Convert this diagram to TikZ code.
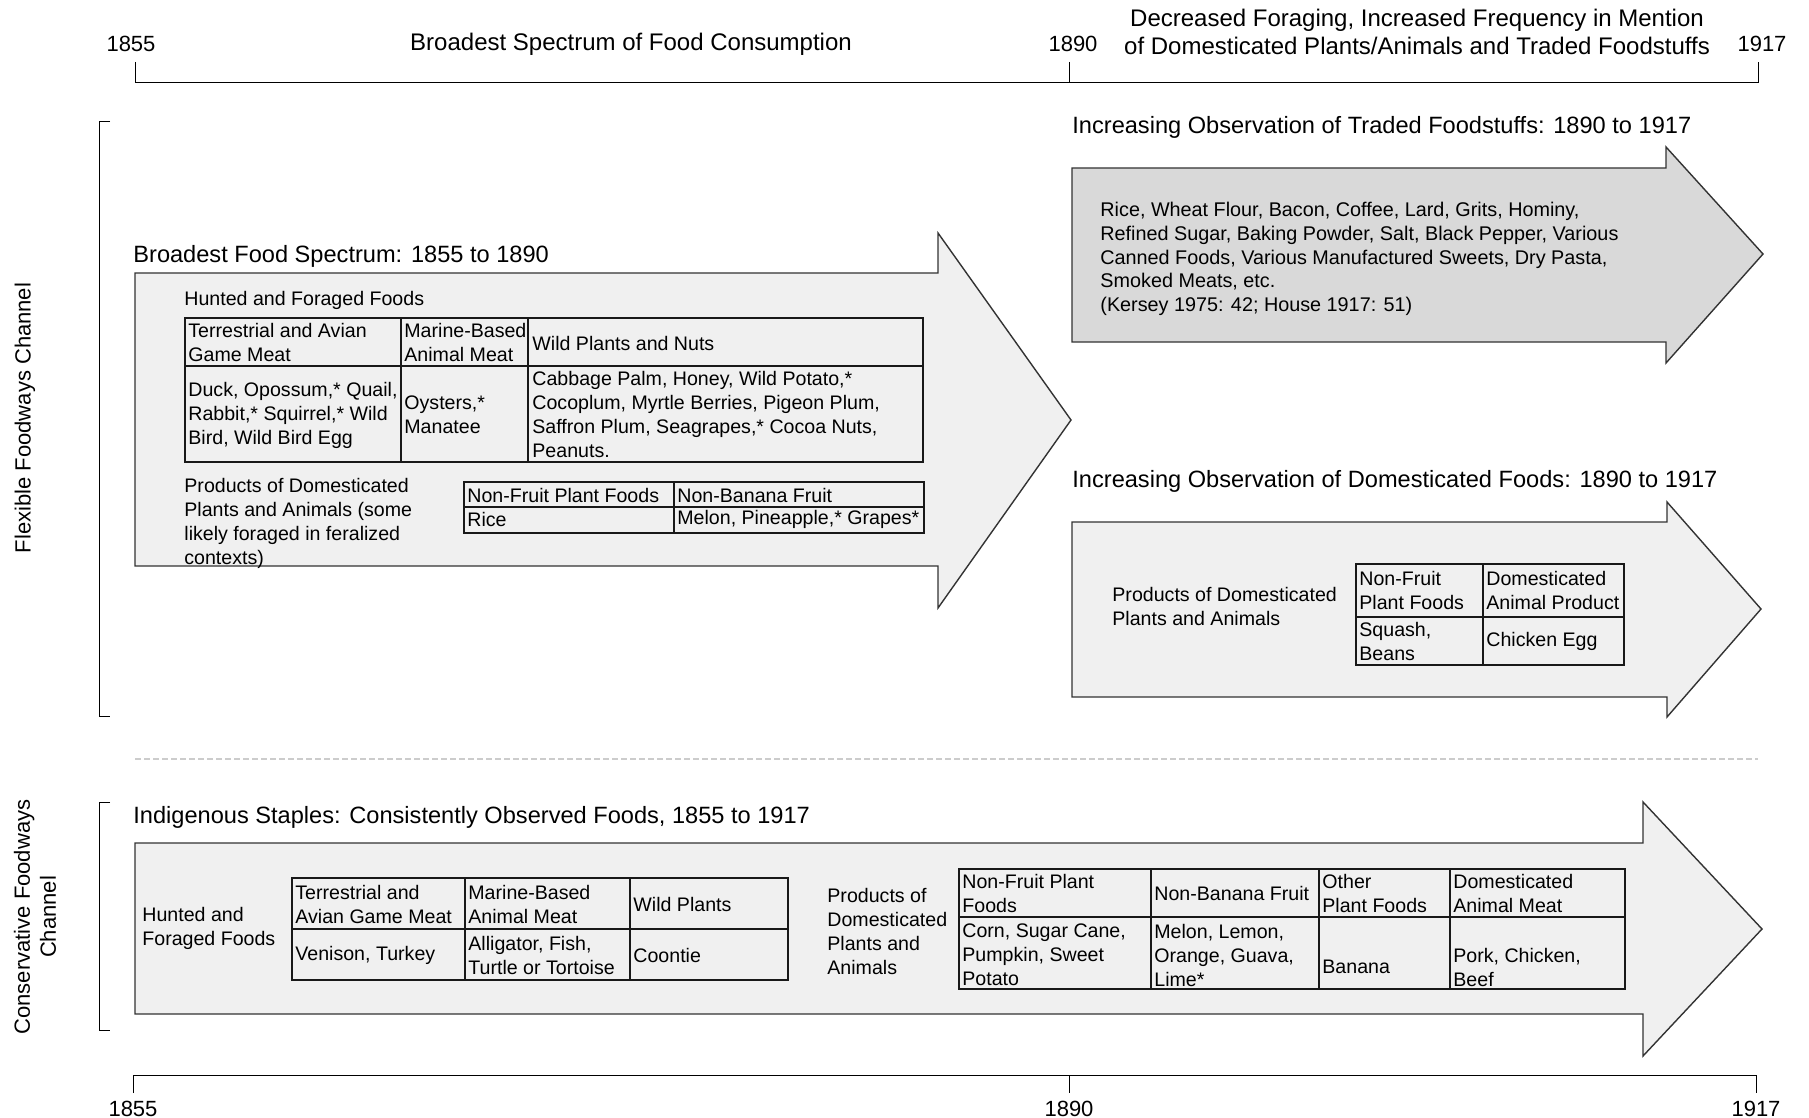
\documentclass[tikz,border=0pt]{standalone}
\usepackage{fontspec}
\setmainfont{Liberation Sans}
\begin{document}
\begin{tikzpicture}[x=0.5pt,y=-0.5pt,
  yearlbl/.style={font=\fontsize{11}{13}\selectfont, inner sep=0pt},
  headlbl/.style={font=\fontsize{12}{14}\selectfont, inner sep=0pt, align=center},
  chanlbl/.style={font=\fontsize{11}{13}\selectfont, inner sep=0pt, align=center, rotate=90},
  arrowtitle/.style={font=\fontsize{11.8}{14}\selectfont, inner sep=0pt, anchor=west},
  celltxt/.style={font=\fontsize{9.8}{12}\selectfont, inner sep=0pt, anchor=west, align=left},
  bigarrow/.style={draw=black!80, fill=black!6, line width=0.7pt, line join=miter},
  tradearrow/.style={bigarrow, fill=black!15},
  grid/.style={draw=black!90, line width=0.9pt}]

\useasboundingbox (0,0) rectangle (1809,1118);

% time axes
\draw (135,62) -- (135,82) -- (1758,82) -- (1758,62);
\draw (1069,62) -- (1069,82);
\foreach \x/\yr in {131/1855, 1073/1890, 1762/1917}
    \node[yearlbl] (top\yr) at (\x,44) {\yr};
\node[headlbl] (spectrum) at (631,44) {Broadest Spectrum of Food Consumption};
\node[headlbl] (decrease) at (1417,32)
  {Decreased Foraging, Increased Frequency in Mention\\of Domesticated Plants/Animals and Traded Foodstuffs};

\draw (133,1093) -- (133,1075) -- (1756,1075) -- (1756,1093);
\draw (1069,1075) -- (1069,1093);
\foreach \x/\yr in {133/1855, 1069/1890, 1756/1917}
    \node[yearlbl] (bot\yr) at (\x,1109) {\yr};

% channels
\draw (110,121) -- (99,121) -- (99,716) -- (110,716);
\draw (110,802) -- (99,802) -- (99,1030) -- (110,1030);
\node[chanlbl] (flexible) at (25,418) {Flexible Foodways Channel};
\node[chanlbl] (conservative) at (35,917) {Conservative Foodways\\Channel};
\draw[black!20, line width=1.3pt, dash pattern=on 3pt off 1.5pt] (135,759) -- (1758,759);

% arrows
\draw[bigarrow] (135,273) -- (938,273) -- (938,233) -- (1071,420) -- (938,608) -- (938,566) -- (135,566) -- cycle;
\draw[tradearrow] (1072,168) -- (1666,168) -- (1666,147) -- (1763,254) -- (1666,363) -- (1666,342) -- (1072,342) -- cycle;
\draw[bigarrow] (1072,522) -- (1667,522) -- (1667,502) -- (1761,609) -- (1667,717) -- (1667,697) -- (1072,697) -- cycle;
\draw[bigarrow] (135,843) -- (1643,843) -- (1643,802) -- (1762,929) -- (1643,1056) -- (1643,1014) -- (135,1014) -- cycle;

\node[arrowtitle] (broadtitle) at (133,256) {Broadest Food Spectrum: 1855 to 1890};
\node[arrowtitle] (tradetitle) at (1072,127) {Increasing Observation of Traded Foodstuffs: 1890 to 1917};
\node[arrowtitle] (domtitle) at (1072,481) {Increasing Observation of Domesticated Foods: 1890 to 1917};
\node[arrowtitle] (indtitle) at (133,817) {Indigenous Staples: Consistently Observed Foods, 1855 to 1917};

% broadest spectrum
\node[celltxt] (hunted) at (184,300) {Hunted and Foraged Foods};
\draw[grid] (185,318) rectangle (923,462);
\draw[grid] (185,366) -- (923,366);
\foreach \x in {401,528}
    \draw[grid] (\x,318) -- (\x,462);
\foreach \x/\y/\t [count=\i] in {
  188/342/{Terrestrial and Avian\\Game Meat},
  404/342/{Marine-Based\\Animal Meat},
  532/343/{Wild Plants and Nuts},
  188/415/{Duck, Opossum,* Quail,\\Rabbit,* Squirrel,* Wild\\Bird, Wild Bird Egg},
  404/415/{Oysters,*\\Manatee},
  532/414/{Cabbage Palm, Honey, Wild Potato,*\\Cocoplum, Myrtle Berries, Pigeon Plum,\\Saffron Plum, Seagrapes,* Cocoa Nuts,\\Peanuts.}}
    \node[celltxt] (broad\i) at (\x,\y) {\t};

\node[celltxt] (domestic) at (184,523)
  {Products of Domesticated\\Plants and Animals (some\\likely foraged in feralized\\contexts)};
\draw[grid] (464,482) rectangle (924,533);
\draw[grid] (464,507) -- (924,507);
\draw[grid] (674,482) -- (674,533);
\foreach \x/\y/\t [count=\i] in {
  467/495/{Non-Fruit Plant Foods},
  677/495/{Non-Banana Fruit},
  467/519/{Rice},
  677/519/{Melon, Pineapple,* Grapes*}}
    \node[celltxt] (feral\i) at (\x,\y) {\t};

% traded foodstuffs
\node[celltxt, font=\fontsize{9.9}{11.8}\selectfont] (traded) at (1100,259)
  {Rice, Wheat Flour, Bacon, Coffee, Lard, Grits, Hominy,\\Refined Sugar, Baking Powder, Salt, Black Pepper, Various\\Canned Foods, Various Manufactured Sweets, Dry Pasta,\\Smoked Meats, etc.\\(Kersey 1975: 42; House 1917: 51)};

% domesticated foods
\node[celltxt] (domlbl) at (1112,606) {Products of Domesticated\\Plants and Animals};
\draw[grid] (1356,564) rectangle (1624,665);
\draw[grid] (1356,617) -- (1624,617);
\draw[grid] (1483,564) -- (1483,665);
\foreach \x/\y/\t [count=\i] in {
  1359/590/{Non-Fruit\\Plant Foods},
  1486/590/{Domesticated\\Animal Product},
  1359/641/{Squash,\\Beans},
  1486/641/{Chicken Egg}}
    \node[celltxt] (dom\i) at (\x,\y) {\t};

% indigenous staples
\node[celltxt] (indhunted) at (142,928) {Hunted and\\Foraged Foods};
\draw[grid] (292,878) rectangle (788,980);
\draw[grid] (292,929) -- (788,929);
\foreach \x in {465,630}
    \draw[grid] (\x,878) -- (\x,980);
\foreach \x/\y/\t [count=\i] in {
  295/904/{Terrestrial and\\Avian Game Meat},
  468/904/{Marine-Based\\Animal Meat},
  633/904/{Wild Plants},
  295/955/{Venison, Turkey},
  468/955/{Alligator, Fish,\\Turtle or Tortoise},
  633/955/{Coontie}}
    \node[celltxt] (wild\i) at (\x,\y) {\t};

\node[celltxt] (inddom) at (827,931) {Products of\\Domesticated\\Plants and\\Animals};
\draw[grid] (959,869) rectangle (1625,989);
\draw[grid] (959,917) -- (1625,917);
\foreach \x in {1151,1319,1450}
    \draw[grid] (\x,869) -- (\x,989);
\foreach \x/\y/\t [count=\i] in {
  962/893/{Non-Fruit Plant\\Foods},
  1154/893/{Non-Banana Fruit},
  1322/893/{Other\\Plant Foods},
  1453/893/{Domesticated\\Animal Meat},
  962/955/{Corn, Sugar Cane,\\Pumpkin, Sweet\\Potato},
  1154/955/{Melon, Lemon,\\Orange, Guava,\\Lime*},
  1322/967/{Banana},
  1453/967/{Pork, Chicken,\\Beef}}
    \node[celltxt] (staple\i) at (\x,\y) {\t};

\end{tikzpicture}
\end{document}
